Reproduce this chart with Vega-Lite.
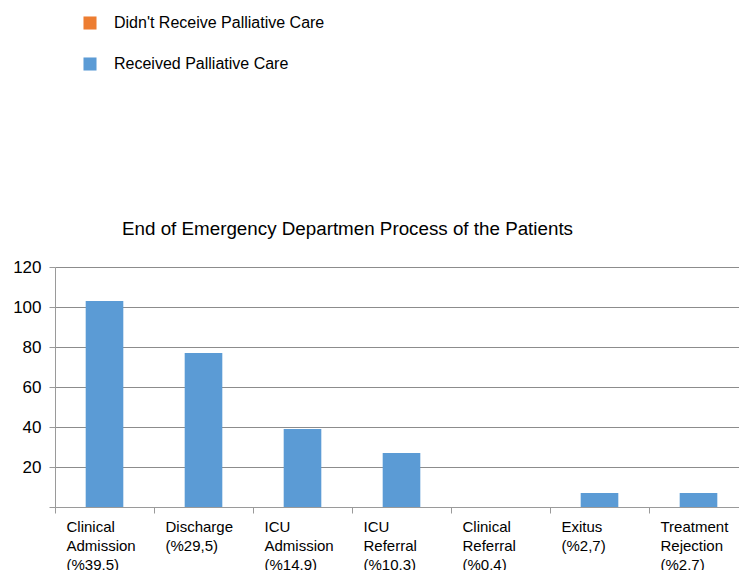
{
  "$schema": "https://vega.github.io/schema/vega-lite/v6.json",
  "autosize": "none",
  "width": 693,
  "height": 240,
  "padding": {"left": 55, "top": 267, "right": 0, "bottom": 63},
  "background": "#ffffff",
  "title": {
    "text": "End of Emergency Departmen Process of the Patients",
    "font": "Liberation Sans",
    "fontSize": 18.8,
    "fontWeight": "normal",
    "color": "#000000",
    "anchor": "middle",
    "dx": -54,
    "offset": -224
  },
  "data": {
    "values": [
      {"outcome": "Clinical Admission (%39,5)", "group": "Received Palliative Care", "patients": 103},
      {"outcome": "Discharge (%29,5)", "group": "Received Palliative Care", "patients": 77},
      {"outcome": "ICU Admission (%14,9)", "group": "Received Palliative Care", "patients": 39},
      {"outcome": "ICU Referral (%10,3)", "group": "Received Palliative Care", "patients": 27},
      {"outcome": "Clinical Referral (%0,4)", "group": "Received Palliative Care", "patients": 0},
      {"outcome": "Exitus (%2,7)", "group": "Received Palliative Care", "patients": 7},
      {"outcome": "Treatment Rejection (%2,7)", "group": "Received Palliative Care", "patients": 7}
    ]
  },
  "mark": {"type": "bar", "width": {"band": 0.38}},
  "encoding": {
    "x": {
      "field": "outcome",
      "type": "nominal",
      "sort": null,
      "scale": {"paddingInner": 0, "paddingOuter": 0},
      "axis": {
        "title": null,
        "bandPosition": 0,
        "labelAngle": 0,
        "labelAlign": "left",
        "labelBaseline": "top",
        "labelPadding": 6,
        "labelOffset": -38,
        "labelExpr": "split(datum.label, ' ')",
        "labelLineHeight": 19,
        "labelFont": "Liberation Sans",
        "labelFontSize": 15,
        "labelColor": "#000000",
        "labelLimit": 200,
        "tickSize": 6,
        "tickColor": "#9a9a9a",
        "domainColor": "#9a9a9a",
        "grid": false
      }
    },
    "y": {
      "field": "patients",
      "type": "quantitative",
      "scale": {"domain": [0, 120]},
      "axis": {
        "title": null,
        "values": [0, 20, 40, 60, 80, 100, 120],
        "labelExpr": "datum.value === 0 ? '' : datum.label",
        "labelFont": "Liberation Sans",
        "labelFontSize": 17,
        "labelColor": "#000000",
        "labelPadding": 8,
        "tickSize": 6,
        "tickColor": "#9a9a9a",
        "domainColor": "#9a9a9a",
        "gridColor": "#8c8c8c",
        "gridWidth": 1.2
      }
    },
    "color": {
      "field": "group",
      "type": "nominal",
      "scale": {
        "domain": ["Didn't Receive Palliative Care", "Received Palliative Care"],
        "range": ["#ED7D31", "#5B9BD5"]
      },
      "legend": {
        "title": null,
        "orient": "none",
        "legendX": 27,
        "legendY": -252,
        "symbolType": "square",
        "symbolSize": 170,
        "symbolStrokeWidth": 0,
        "labelFont": "Liberation Sans",
        "labelFontSize": 16,
        "labelColor": "#000000",
        "labelOffset": 16,
        "rowPadding": 25,
        "labelLimit": 400
      }
    }
  },
  "config": {
    "view": {"stroke": null}
  }
}
